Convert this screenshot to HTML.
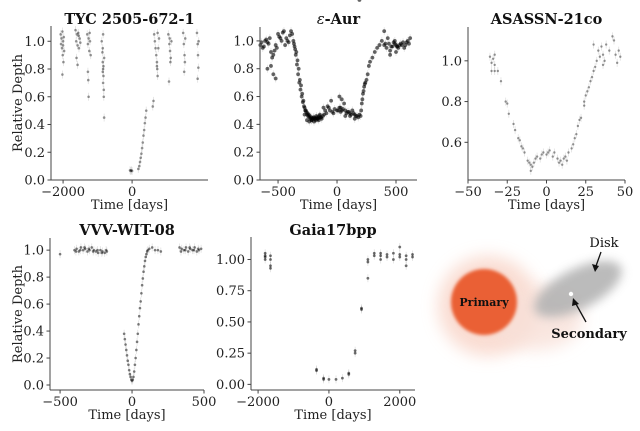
<!DOCTYPE html>
<html><head><meta charset="utf-8">
<style>
html,body{margin:0;padding:0;background:#fff;}
svg text{font-family:"DejaVu Serif","Liberation Serif",serif;}
</style></head>
<body>
<svg id="fig" width="640" height="426" viewBox="0 0 640 426" xmlns="http://www.w3.org/2000/svg">
<defs>
<filter id="blur8" x="-50%" y="-50%" width="200%" height="200%"><feGaussianBlur stdDeviation="8"/></filter>
<filter id="blur5" x="-50%" y="-50%" width="200%" height="200%"><feGaussianBlur stdDeviation="5"/></filter>
<filter id="blur2" x="-50%" y="-50%" width="200%" height="200%"><feGaussianBlur stdDeviation="1.5"/></filter>
</defs>
<g id="illustration">
  <ellipse cx="488" cy="306" rx="50" ry="50" fill="#f9d9ce" opacity="0.9" filter="url(#blur8)"/>
  <ellipse cx="535" cy="318" rx="48" ry="32" fill="#f8e0d8" opacity="0.8" filter="url(#blur8)"/>
  <ellipse cx="578" cy="289" rx="48" ry="20" transform="rotate(-27 578 289)" fill="#b4b4b4" opacity="0.9" filter="url(#blur5)"/>
  <circle cx="484" cy="302" r="33" fill="#ea6136" filter="url(#blur2)"/>
  <circle cx="571" cy="294" r="2.2" fill="#fff"/>
  <text x="484" y="306" font-size="11" font-weight="bold" text-anchor="middle" fill="#111">Primary</text>
  <text x="604" y="247" font-size="13" text-anchor="middle" fill="#111">Disk</text>
  <text x="589" y="338" font-size="13" font-weight="bold" text-anchor="middle" fill="#111">Secondary</text>
  <line x1="601" y1="252" x2="596" y2="266" stroke="#111" stroke-width="1.3"/>
  <polygon points="595,272 592,264 599,266" fill="#111"/>
  <line x1="586" y1="322" x2="576" y2="304" stroke="#111" stroke-width="1.3"/>
  <polygon points="573,298 579,304 572,306" fill="#111"/>
</g>
</svg>
<script>
const tycT=[-2070,-2060,-2045,-2030,-2020,-2010,-2000,-1990,-1980,-1970,-2020,-2000,-1640,-1620,-1600,-1580,-1560,-1540,-1520,-1500,-1610,-1580,-1550,-1300,-1280,-1260,-1240,-1220,-1200,-1280,-1270,-1260,-1230,-880,-860,-850,-840,-850,-830,-840,-830,-820,-810,-820,-810,-850,-840,-60,-40,-20,0,180,210,230,250,270,290,310,330,350,370,390,410,600,620,640,660,680,700,720,730,740,720,760,780,740,1050,1080,1100,1120,1090,1110,1070,1140,1480,1500,1520,1530,1510,1540,1880,1900,1910,1920,1900,1930];
const tycD=[1.05,0.98,1.02,0.95,1.07,0.9,1.0,0.85,1.03,0.93,0.76,0.97,1.08,1.0,1.05,0.97,1.06,0.95,1.02,0.99,0.88,0.83,1.04,1.05,0.98,1.02,0.93,1.0,0.9,0.78,0.72,0.6,1.06,1.0,0.92,0.85,0.8,0.78,0.75,0.7,0.82,0.65,0.88,0.6,0.45,0.95,1.05,0.07,0.065,0.07,0.065,0.08,0.1,0.13,0.16,0.19,0.23,0.27,0.32,0.36,0.41,0.45,0.5,0.53,0.57,1.05,1.0,0.95,0.9,0.85,0.8,0.75,0.82,0.95,1.02,1.06,1.05,0.98,0.93,0.88,1.02,0.85,0.71,1.0,1.06,0.98,0.9,0.85,0.78,1.02,1.06,0.98,0.9,0.81,0.73,1.0];
const aurT=[-650,-630,-610,-590,-570,-560,-550,-530,-520,-500,-480,-460,-440,-420,-400,-380,-560,-540,-590,-520,-370,-360,-350,-340,-330,-320,-310,-300,-290,-280,-270,-260,-250,-240,-230,-220,-210,-200,-190,-180,-170,-160,-150,-140,-130,-120,-110,-100,-90,-80,-60,-40,-20,0,20,40,60,80,100,120,140,160,180,200,210,220,230,240,250,260,270,280,300,320,340,360,380,400,420,440,460,480,500,520,540,560,580,600,620,400,450,500,20,40,-50,-365,-345,-325,-305,-295,-285,-275,-265,-255,-245,-235,-225,-215,-205,-195,-185,-175,-165,-155,-145,10,30,50,70,90,110,130,150,170,190,205,215,225,235,470,490,510,530,-640,-620,-600,-580,-540,-510,-490,-470,-450,-430,-410,-390,410,430,450,490,510,550,570,590,610,-355,-335,-315,-275,-255,-235,-215,-195,-175,-155,-135,-115,-70,-30,30,70,110,150,190];
const aurD=[0.97,0.95,1.0,0.99,1.02,0.92,0.88,0.93,0.97,1.05,1.02,1.06,0.97,1.0,1.04,1.05,0.82,0.76,0.8,0.73,1.0,0.96,0.9,0.83,0.76,0.7,0.65,0.6,0.56,0.53,0.5,0.49,0.48,0.47,0.46,0.45,0.44,0.45,0.44,0.43,0.45,0.44,0.46,0.45,0.44,0.46,0.47,0.5,0.48,0.53,0.5,0.49,0.51,0.5,0.52,0.5,0.55,0.48,0.49,0.47,0.48,0.46,0.45,0.46,0.55,0.62,0.67,0.7,0.72,0.76,0.82,0.85,0.88,0.92,0.95,0.97,1.0,0.97,0.95,0.98,0.96,0.99,0.97,0.95,0.98,0.99,0.97,1.0,1.02,1.07,0.9,0.92,0.6,0.58,0.57,0.98,0.92,0.8,0.68,0.62,0.57,0.52,0.5,0.47,0.46,0.45,0.44,0.43,0.44,0.45,0.44,0.46,0.44,0.45,0.47,0.5,0.49,0.51,0.5,0.49,0.48,0.5,0.47,0.46,0.47,0.5,0.58,0.64,0.69,0.96,0.98,0.96,0.97,0.99,0.96,1.01,0.98,0.9,0.95,1.03,1.0,1.07,1.02,0.99,1.07,0.98,1.02,0.93,1.0,0.96,0.97,0.95,0.99,0.98,0.94,0.86,0.72,0.47,0.43,0.42,0.43,0.42,0.44,0.43,0.45,0.52,0.52,0.48,0.52,0.46,0.46,0.44];
const asaT=[-36,-35,-34,-33,-33,-35,-33,-31,-29,-26,-25,-24,-21,-20,-18,-17,-16,-15,-14,-12,-11,-10,-9,-8,-10,-7,-6,-4,-3,-2,0,1,2,4,5,7,8,9,10,11,12,13,14,16,17,18,19,20,21,22,24,24,25,26,27,28,29,30,31,32,33,34,35,36,37,38,40,42,43,44,45,46,47,30,36];
const asaD=[1.02,0.99,1.01,0.98,1.03,0.95,0.95,0.95,0.9,0.8,0.79,0.74,0.69,0.66,0.62,0.61,0.58,0.57,0.55,0.51,0.5,0.49,0.48,0.5,0.46,0.52,0.53,0.52,0.54,0.55,0.54,0.55,0.56,0.53,0.55,0.52,0.5,0.51,0.49,0.52,0.53,0.51,0.55,0.57,0.59,0.62,0.64,0.68,0.71,0.72,0.78,0.8,0.83,0.85,0.87,0.9,0.92,0.95,0.97,1.0,1.05,1.02,1.07,1.03,1.0,1.08,1.05,1.12,1.1,1.03,0.99,1.05,1.02,1.08,0.98];
const vvvT=[-500,-400,-385,-370,-355,-340,-325,-310,-295,-280,-265,-250,-235,-220,-205,-190,-175,-390,-360,-330,-300,-270,-240,-210,-180,-55,-45,-35,-25,-15,-5,0,5,15,25,35,45,55,65,75,85,95,105,120,140,160,180,200,330,345,360,375,390,405,420,435,450,465,480,340,370,400,430,460,-50,-40,-30,-20,-10,10,20,30,40,50,60,70,80,90,100,110];
const vvvD=[0.97,1.0,1.01,0.99,1.02,1.0,1.01,0.99,1.0,1.02,1.0,0.99,0.98,1.0,0.99,0.98,0.99,0.99,1.0,1.02,1.01,0.99,1.0,0.98,1.0,0.38,0.3,0.22,0.15,0.08,0.04,0.03,0.04,0.1,0.2,0.32,0.45,0.57,0.68,0.79,0.88,0.95,0.99,1.01,1.02,1.0,1.0,0.99,1.02,1.01,1.0,1.02,0.99,1.01,1.0,1.02,0.99,1.0,1.01,0.99,1.0,1.02,1.0,1.01,0.34,0.26,0.18,0.11,0.06,0.06,0.15,0.26,0.38,0.51,0.62,0.74,0.84,0.92,0.97,1.0];
const gaiaT=[-1800,-1800,-1800,-1800,-1650,-1650,-1650,-1650,-350,-350,-150,-150,0,200,380,560,560,740,740,920,920,1100,1100,1100,1280,1280,1460,1460,1460,1640,1640,1820,1820,2000,2000,2000,2180,2180,2180,2360,2360];
const gaiaD=[1.05,1.03,1.0,1.02,1.03,1.0,0.95,0.93,0.12,0.11,0.05,0.04,0.04,0.04,0.05,0.09,0.08,0.27,0.25,0.61,0.6,1.0,0.98,0.85,1.05,1.03,1.05,1.03,1.0,1.04,1.02,1.05,1.0,1.04,1.02,1.1,1.03,1.0,0.95,1.04,1.02];

const tycXT=[-2000,0], tycYT=[0,0.2,0.4,0.6,0.8,1.0];
const aurXT=[-500,0,500], aurYT=[0,0.2,0.4,0.6,0.8,1.0];
const asaXT=[-50,-25,0,25,50], asaYT=[0.6,0.8,1.0];
const vvvXT=[-500,0,500], vvvYT=[0,0.2,0.4,0.6,0.8,1.0];
const gaiaXT=[-2000,0,2000], gaiaYT=[0,0.25,0.5,0.75,1.0];

const NS="http://www.w3.org/2000/svg";
const svg=document.getElementById('fig');
function mk(tag,attrs,parent){const e=document.createElementNS(NS,tag);for(const k in attrs)e.setAttribute(k,attrs[k]);parent.appendChild(e);return e;}

function panel(c){
  const g=mk('g',{},svg);
  
  
  const sx=v=>c.L+(v-c.x0)/(c.x1-c.x0)*(c.R-c.L);
  const sy=v=>c.B-(v-c.y0)/(c.y1-c.y0)*(c.B-c.T);
  for(let i=0;i<c.t.length;i++){
    const x=sx(c.t[i]),y=sy(c.d[i]);
    const eb=mk('line',{x1:x,x2:x,y1:y-4,y2:y+4,stroke:'#000','stroke-opacity':0.12,'stroke-width':0.8},g);
    
    
    const p=mk('circle',{cx:x,cy:y,r:c.r||1.3,fill:'#000','fill-opacity':c.op||0.4},g);
    
    
  }
  const sp1=mk('line',{x1:c.L,x2:c.L,y1:c.T,y2:c.B,stroke:'#444','stroke-width':1},g);
  
  
  const sp2=mk('line',{x1:c.L,x2:c.R,y1:c.B,y2:c.B,stroke:'#444','stroke-width':1},g);
  
  
  c.xt.forEach(v=>{
    const x=sx(v);
    mk('line',{x1:x,x2:x,y1:c.B,y2:c.B+3.5,stroke:'#444'},g);
    const t=mk('text',{x:x,y:c.B+16,'font-size':13,'text-anchor':'middle',fill:'#222'},g);
    t.textContent=(v<0?'\u2212'+(-v):String(v));
    
    
  });
  c.yt.forEach(v=>{
    const y=sy(v);
    mk('line',{x1:c.L-3.5,x2:c.L,y1:y,y2:y,stroke:'#444'},g);
    const t=mk('text',{x:c.L-6,y:y+4.5,'font-size':13,'text-anchor':'end',fill:'#222'},g);
    t.textContent=v.toFixed(c.dec);
    
    
  });
  const ti=mk('text',{x:(c.L+c.R)/2,y:c.ty,'font-size':14.5,'font-weight':'bold','text-anchor':'middle',fill:'#111'},g);
  ti.textContent=c.title;
  if(c.italicEps){ti.textContent='';const a=mk('tspan',{'font-style':'italic','font-weight':'normal'},ti);a.textContent='\u03b5';const b=mk('tspan',{},ti);b.textContent='-Aur';}
  
  
  const xl=mk('text',{x:(c.L+c.R)/2,y:c.B+29,'font-size':13,'text-anchor':'middle',fill:'#222'},g);
  xl.textContent='Time [days]';
  
  
  if(c.ylab){
    const cy=(c.T+c.B)/2;
    const yl=mk('text',{x:22,y:cy,'font-size':13,'text-anchor':'middle',fill:'#222',transform:'rotate(-90 22 '+cy+')'},g);
    yl.textContent='Relative Depth';
    
    
  }
}
panel({name:'tyc',title:'TYC 2505-672-1',t:tycT,d:tycD,xt:tycXT,yt:tycYT,dec:1,L:51,R:208,T:26,B:180,x0:-2350,x1:2200,y0:0,y1:1.11,ty:24,ylab:true});
panel({name:'eps-aur',title:'e-Aur',italicEps:true,t:aurT,d:aurD,xt:aurXT,yt:aurYT,dec:1,L:260,R:417,T:27,B:180,x0:-653,x1:678,y0:0,y1:1.1,ty:24,r:1.9,op:0.6});
panel({name:'asassn',title:'ASASSN-21co',t:asaT,d:asaD,xt:asaXT,yt:asaYT,dec:1,L:468,R:625,T:27,B:180,x0:-50,x1:50,y0:0.415,y1:1.166,ty:24,r:1.2});
panel({name:'vvv',title:'VVV-WIT-08',t:vvvT,d:vvvD,xt:vvvXT,yt:vvvYT,dec:1,L:50,R:204,T:238,B:390,x0:-570,x1:500,y0:-0.037,y1:1.09,ty:235,ylab:true,r:1.3,op:0.5});
panel({name:'gaia',title:'Gaia17bpp',t:gaiaT,d:gaiaD,xt:gaiaXT,yt:gaiaYT,dec:2,L:251,R:415,T:237,B:390,x0:-2200,x1:2430,y0:-0.045,y1:1.18,ty:235,r:1.4,op:0.55});
</script>
</body></html>
